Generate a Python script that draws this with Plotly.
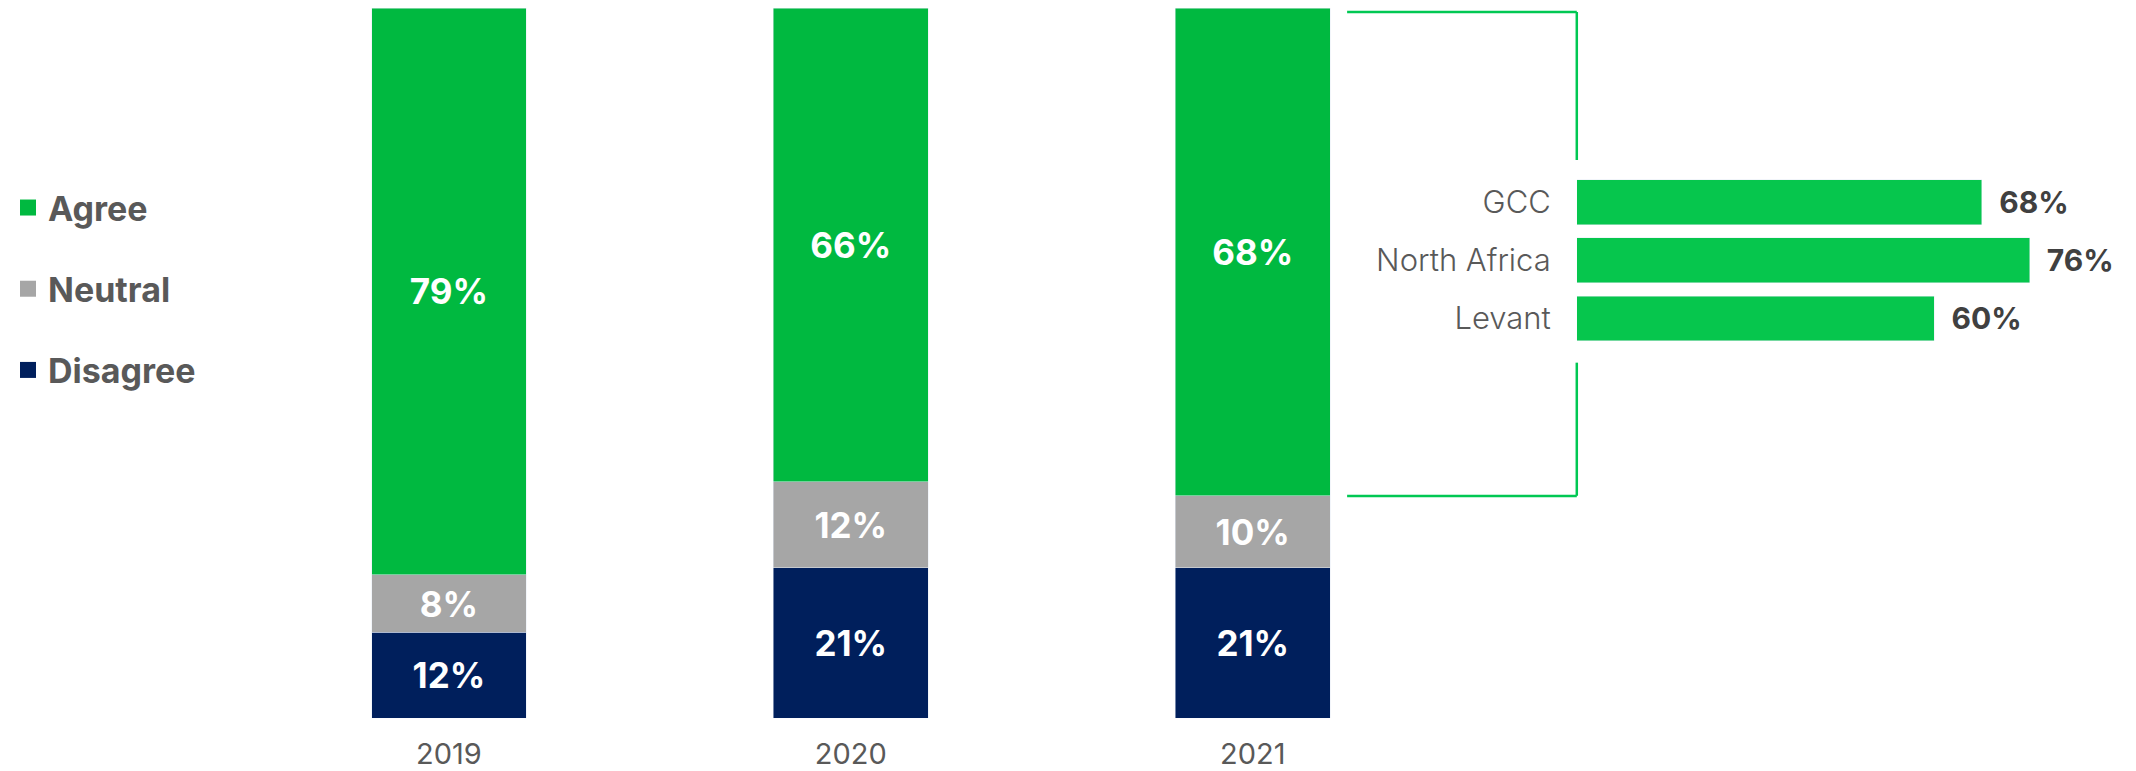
import plotly.graph_objects as go

# stacked yearly shares (%)
years = ['2019', '2020', '2021']
agree = [79, 66, 68]
neutral = [8, 12, 10]
disagree = [12, 21, 21]

# 2021 agree share by region (%)
regions = ['GCC', 'North Africa', 'Levant']
region_agree = [68, 76, 60]

GREEN = '#00B940'
GREEN2 = '#06C64D'
GREY = '#A6A6A6'
NAVY = '#001F5C'
TXT = '#595959'
FONT = 'Inter'

# page body has an 8px margin, so the figure is 8px smaller each way
W, H = 2128, 763

fig = go.Figure()

# bottom to top so the stack builds upwards
for name, vals, col in [('Disagree', disagree, NAVY),
                        ('Neutral', neutral, GREY),
                        ('Agree', agree, GREEN)]:
    fig.add_trace(go.Bar(
        x=years, y=vals, name=name, marker_color=col, width=0.385,
        showlegend=False,
        text=[f'{v}%' for v in vals], textposition='inside',
        insidetextanchor='middle',
        textfont=dict(family=FONT, size=35, color='white', weight='bold'),
        xaxis='x', yaxis='y',
    ))

# legend entries (square swatches)
for rank, (name, col) in enumerate([('Agree', GREEN), ('Neutral', GREY), ('Disagree', NAVY)]):
    fig.add_trace(go.Scatter(
        x=[None], y=[None], mode='markers', name=name, legendgroup=name,
        legendrank=rank + 1,
        marker=dict(symbol='square', size=17, color=col),
        xaxis='x', yaxis='y',
    ))

# regional breakdown
fig.add_trace(go.Bar(
    x=region_agree, y=regions, orientation='h', marker_color=GREEN2,
    width=0.77, showlegend=False,
    text=[f'\u00a0\u00a0{v}%' for v in region_agree], textposition='outside',
    textfont=dict(family=FONT, size=30, color='#404040', weight='bold'),
    cliponaxis=False,
    xaxis='x2', yaxis='y2',
))

# bracket linking the 2021 agree segment to the breakdown
bx0, bx1 = 1338 / W, 1568 / W
btop, bgap1, bgap2 = 1 - 4 / H, 1 - 153 / H, 1 - 357 / H
bbot = disagree[2] + neutral[2]
line = dict(color='#00C853', width=2.5)
fig.add_shape(type='line', xref='paper', yref='paper', x0=bx0, x1=bx1, y0=btop, y1=btop, line=line)
fig.add_shape(type='line', xref='paper', yref='paper', x0=bx1, x1=bx1, y0=btop, y1=bgap1, line=line)
fig.add_shape(type='line', xref='paper', yref='paper', x0=bx1, x1=bx1, y0=bgap2, y1=1 - 491 / H, line=line)
fig.add_shape(type='line', xref='paper', yref='y', x0=bx0, x1=bx1, y0=bbot, y1=bbot, line=line)

fig.update_layout(
    width=W, height=H,
    margin=dict(l=0, r=0, t=0, b=0),
    paper_bgcolor='white', plot_bgcolor='white',
    barmode='stack',
    font=dict(family=FONT, color=TXT),
    showlegend=True,
    legend=dict(
        x=-0.0015, y=0.7745, xanchor='left', yanchor='top',
        traceorder='grouped', tracegroupgap=34,
        font=dict(family=FONT, size=34, color=TXT, weight='bold'),
        bgcolor='rgba(0,0,0,0)',
    ),
    xaxis=dict(
        domain=[237.25 / W, 1444.75 / W], range=[-0.5, 2.5],
        showgrid=False, zeroline=False, showline=False, ticks='',
        tickfont=dict(family=FONT, size=29, color=TXT),
        ticklabelstandoff=16,
    ),
    yaxis=dict(
        domain=[48 / H, 1.0], range=[0, 99],
        visible=False,
    ),
    xaxis2=dict(
        domain=[1568 / W, 2105 / W], range=[0, 90], anchor='y2',
        visible=False,
    ),
    yaxis2=dict(
        domain=[1 - 341.75 / H, 1 - 166.25 / H], range=[2.5, -0.5], anchor='x2',
        type='category', categoryorder='array', categoryarray=regions,
        showgrid=False, zeroline=False, showline=False, ticks='',
        tickfont=dict(family=FONT, size=31, color=TXT, weight=300),
        ticklabelstandoff=25,
    ),
)

fig.write_html('out.html')
